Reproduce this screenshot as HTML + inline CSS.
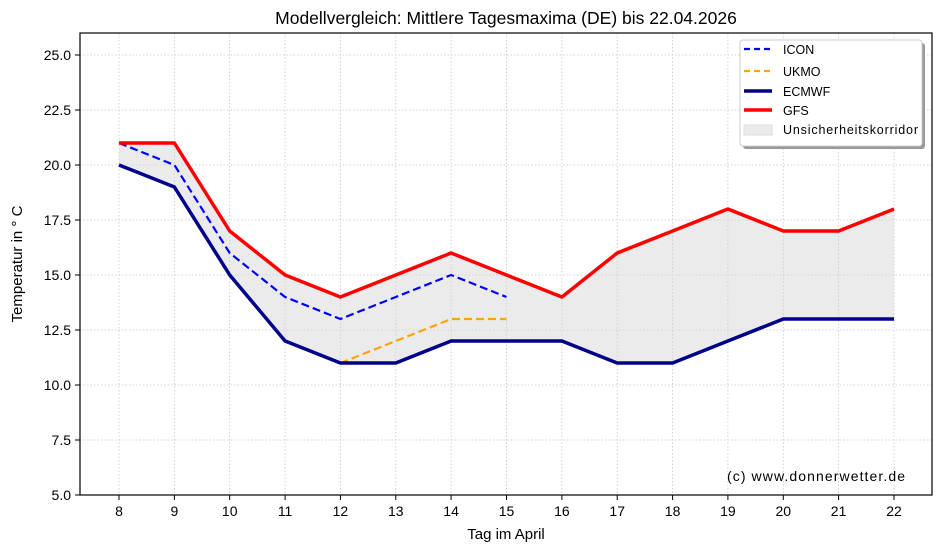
<!DOCTYPE html><html><head><meta charset="utf-8"><style>body{margin:0;background:#fff}svg{display:block;font-family:"Liberation Sans",sans-serif}</style></head><body>
<svg width="942" height="552" viewBox="0 0 942 552">
<rect width="942" height="552" fill="#fff"/>
<g stroke="#c8c8c8" stroke-width="0.8" stroke-dasharray="1.5,2">
<line x1="80" x2="932" y1="55" y2="55"/><line x1="80" x2="932" y1="110" y2="110"/><line x1="80" x2="932" y1="165" y2="165"/><line x1="80" x2="932" y1="220" y2="220"/><line x1="80" x2="932" y1="275" y2="275"/><line x1="80" x2="932" y1="330" y2="330"/><line x1="80" x2="932" y1="385" y2="385"/><line x1="80" x2="932" y1="440" y2="440"/>
<line y1="33" y2="495" x1="119" x2="119"/><line y1="33" y2="495" x1="174.4" x2="174.4"/><line y1="33" y2="495" x1="229.7" x2="229.7"/><line y1="33" y2="495" x1="285.1" x2="285.1"/><line y1="33" y2="495" x1="340.4" x2="340.4"/><line y1="33" y2="495" x1="395.8" x2="395.8"/><line y1="33" y2="495" x1="451.1" x2="451.1"/><line y1="33" y2="495" x1="506.5" x2="506.5"/><line y1="33" y2="495" x1="561.9" x2="561.9"/><line y1="33" y2="495" x1="617.2" x2="617.2"/><line y1="33" y2="495" x1="672.6" x2="672.6"/><line y1="33" y2="495" x1="727.9" x2="727.9"/><line y1="33" y2="495" x1="783.3" x2="783.3"/><line y1="33" y2="495" x1="838.6" x2="838.6"/><line y1="33" y2="495" x1="894" x2="894"/>
</g>
<polygon fill="#d3d3d3" fill-opacity="0.45" points="119,143 174.4,143 229.7,231 285.1,275 340.4,297 395.8,275 451.1,253 506.5,275 561.9,297 617.2,253 672.6,231 727.9,209 783.3,231 838.6,231 894,209 894,319 838.6,319 783.3,319 727.9,341 672.6,363 617.2,363 561.9,341 506.5,341 451.1,341 395.8,363 340.4,363 285.1,341 229.7,275 174.4,187 119,165"/>
<polyline fill="none" stroke="#0000ff" stroke-width="2.2" stroke-dasharray="8,4" points="119,143 174.4,165 229.7,253 285.1,297 340.4,319 395.8,297 451.1,275 506.5,297"/>
<polyline fill="none" stroke="#ffa500" stroke-width="2.2" stroke-dasharray="8,4" points="340.4,363 395.8,341 451.1,319 506.5,319"/>
<polyline fill="none" stroke="#00008b" stroke-width="3.5" stroke-linejoin="round" points="119,165 174.4,187 229.7,275 285.1,341 340.4,363 395.8,363 451.1,341 506.5,341 561.9,341 617.2,363 672.6,363 727.9,341 783.3,319 838.6,319 894,319"/>
<polyline fill="none" stroke="#ff0000" stroke-width="3.5" stroke-linejoin="round" points="119,143 174.4,143 229.7,231 285.1,275 340.4,297 395.8,275 451.1,253 506.5,275 561.9,297 617.2,253 672.6,231 727.9,209 783.3,231 838.6,231 894,209"/>
<rect x="80" y="33" width="852" height="462" fill="none" stroke="#000" stroke-width="1.2"/>
<g stroke="#000" stroke-width="1">
<line x1="75" x2="80" y1="55" y2="55"/><line x1="75" x2="80" y1="110" y2="110"/><line x1="75" x2="80" y1="165" y2="165"/><line x1="75" x2="80" y1="220" y2="220"/><line x1="75" x2="80" y1="275" y2="275"/><line x1="75" x2="80" y1="330" y2="330"/><line x1="75" x2="80" y1="385" y2="385"/><line x1="75" x2="80" y1="440" y2="440"/><line x1="75" x2="80" y1="495" y2="495"/>
<line y1="495" y2="500" x1="119" x2="119"/><line y1="495" y2="500" x1="174.4" x2="174.4"/><line y1="495" y2="500" x1="229.7" x2="229.7"/><line y1="495" y2="500" x1="285.1" x2="285.1"/><line y1="495" y2="500" x1="340.4" x2="340.4"/><line y1="495" y2="500" x1="395.8" x2="395.8"/><line y1="495" y2="500" x1="451.1" x2="451.1"/><line y1="495" y2="500" x1="506.5" x2="506.5"/><line y1="495" y2="500" x1="561.9" x2="561.9"/><line y1="495" y2="500" x1="617.2" x2="617.2"/><line y1="495" y2="500" x1="672.6" x2="672.6"/><line y1="495" y2="500" x1="727.9" x2="727.9"/><line y1="495" y2="500" x1="783.3" x2="783.3"/><line y1="495" y2="500" x1="838.6" x2="838.6"/><line y1="495" y2="500" x1="894" x2="894"/>
</g>
<g font-size="14" fill="#000" text-anchor="end">
<text x="71" y="60">25.0</text><text x="71" y="115">22.5</text><text x="71" y="170">20.0</text><text x="71" y="225">17.5</text><text x="71" y="280">15.0</text><text x="71" y="335">12.5</text><text x="71" y="390">10.0</text><text x="71" y="445">7.5</text><text x="71" y="500">5.0</text>
</g>
<g font-size="14" fill="#000" text-anchor="middle">
<text x="119" y="516">8</text><text x="174.4" y="516">9</text><text x="229.7" y="516">10</text><text x="285.1" y="516">11</text><text x="340.4" y="516">12</text><text x="395.8" y="516">13</text><text x="451.1" y="516">14</text><text x="506.5" y="516">15</text><text x="561.9" y="516">16</text><text x="617.2" y="516">17</text><text x="672.6" y="516">18</text><text x="727.9" y="516">19</text><text x="783.3" y="516">20</text><text x="838.6" y="516">21</text><text x="894" y="516">22</text>
<text x="506" y="539" font-size="15">Tag im April</text>
<text x="506" y="24" font-size="17.5">Modellvergleich: Mittlere Tagesmaxima (DE) bis 22.04.2026</text>
</g>
<text transform="translate(22,264) rotate(-90)" font-size="15" text-anchor="middle">Temperatur in ° C</text>
<text x="905" y="481" font-size="14" text-anchor="end" textLength="178">(c) www.donnerwetter.de</text>
<rect x="743" y="43" width="182" height="106" rx="3" fill="#999"/>
<rect x="740" y="40" width="182" height="106" rx="3" fill="#fff" stroke="#ccc"/>
<g font-size="12.5">
<line x1="744" x2="772" y1="49" y2="49" stroke="#0000ff" stroke-width="2.2" stroke-dasharray="6,4"/><text x="783" y="54">ICON</text>
<line x1="744" x2="772" y1="71" y2="71" stroke="#ffa500" stroke-width="2.2" stroke-dasharray="6,4"/><text x="783" y="76">UKMO</text>
<line x1="744" x2="772" y1="91" y2="91" stroke="#00008b" stroke-width="3.5"/><text x="783" y="96">ECMWF</text>
<line x1="744" x2="772" y1="110" y2="110" stroke="#ff0000" stroke-width="3.5"/><text x="783" y="115">GFS</text>
<rect x="744" y="125" width="28" height="10" fill="#ebebeb" stroke="#ddd"/><text x="783" y="134" textLength="135">Unsicherheitskorridor</text>
</g>
</svg></body></html>
